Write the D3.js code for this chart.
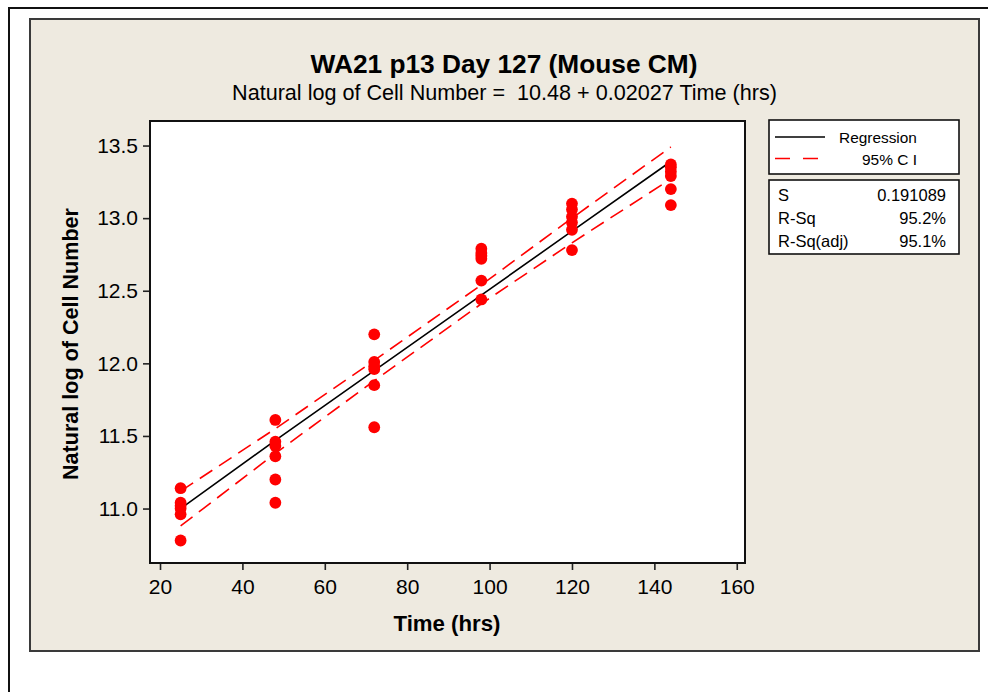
<!DOCTYPE html>
<html>
<head>
<meta charset="utf-8">
<script src="https://cdn.jsdelivr.net/npm/d3@7"></script>
<style>
  html, body { margin: 0; padding: 0; background: #ffffff; }
  svg { display: block; }
  text { font-family: "Liberation Sans", Arial, sans-serif; fill: #000; }
</style>
</head>
<body>
<svg id="chart" width="988" height="692"></svg>
<script>
// ---------------- data ----------------
const times = [25, 48, 72, 98, 120, 144];
const lnCells25  = [11.14, 11.04, 11.02, 11.00, 10.96, 10.78];
const lnCells48  = [11.61, 11.46, 11.43, 11.36, 11.20, 11.04];
const lnCells72  = [12.20, 12.01, 11.98, 11.96, 11.85, 11.56];
const lnCells98  = [12.79, 12.76, 12.74, 12.72, 12.57, 12.44];
const lnCells120 = [13.10, 13.06, 13.01, 12.97, 12.92, 12.78];
const lnCells144 = [13.37, 13.35, 13.32, 13.29, 13.20, 13.09];
const groups = [lnCells25, lnCells48, lnCells72, lnCells98, lnCells120, lnCells144];

const fitValues = [11.00, 11.47, 11.95, 12.47, 12.91, 13.39];
const ciUpper   = [11.12, 11.55, 12.02, 12.54, 13.00, 13.49];
const ciLower   = [10.88, 11.38, 11.88, 12.41, 12.83, 13.27];

const xTicks = [20, 40, 60, 80, 100, 120, 140, 160];
const yTicks = [11.0, 11.5, 12.0, 12.5, 13.0, 13.5];

const titleText = "WA21 p13 Day 127 (Mouse CM)";
const subtitleText = "Natural log of Cell Number =  10.48 + 0.02027 Time (hrs)";
const xTitle = "Time (hrs)";
const yTitle = "Natural log of Cell Number";
const legendLabels = ["Regression", "95% C I"];
const statNames = ["S", "R-Sq", "R-Sq(adj)"];
const statValues = ["0.191089", "95.2%", "95.1%"];

// ---------------- layout ----------------
const svg = d3.select("#chart");
const plot = { left: 150, top: 121, right: 745, bottom: 563 };
const red = "#ff0000";

function fitWidth(sel, w) {
  const cur = sel.node().getComputedTextLength();
  const fs = parseFloat(sel.attr("font-size"));
  if (cur > 0) sel.attr("font-size", (fs * w / cur).toFixed(2));
}

// outer frame lines
svg.append("line").attr("x1", 8).attr("x2", 988).attr("y1", 8).attr("y2", 8)
  .attr("stroke", "#111").attr("stroke-width", 2);
svg.append("line").attr("x1", 9).attr("x2", 9).attr("y1", 7).attr("y2", 692)
  .attr("stroke", "#111").attr("stroke-width", 2);

// beige panel
svg.append("rect").attr("x", 30).attr("y", 19).attr("width", 949).attr("height", 632)
  .attr("fill", "#eeeae0").attr("stroke", "#3a3a3a").attr("stroke-width", 2);

// plot area
svg.append("rect").attr("x", plot.left).attr("y", plot.top)
  .attr("width", plot.right - plot.left).attr("height", plot.bottom - plot.top)
  .attr("fill", "#ffffff");

const x = d3.scaleLinear().domain([17.57, 162.0]).range([plot.left, plot.right]);
const y = d3.scaleLinear().domain([10.625, 13.669]).range([plot.bottom, plot.top]);

// axes
const xAxis = svg.append("g").attr("transform", `translate(0,${plot.bottom})`)
  .call(d3.axisBottom(x).tickValues(xTicks).tickSize(7).tickSizeOuter(0).tickPadding(9).tickFormat(d3.format("d")));
const yAxis = svg.append("g").attr("transform", `translate(${plot.left},0)`)
  .call(d3.axisLeft(y).tickValues(yTicks).tickSize(7).tickSizeOuter(0).tickPadding(5).tickFormat(d3.format(".1f")));
[xAxis, yAxis].forEach(a => {
  a.select(".domain").remove();
  a.selectAll(".tick line").attr("stroke", "#222").attr("stroke-width", 1.6);
  a.selectAll(".tick text").attr("font-size", 21).attr("fill", "#000")
    .attr("font-family", "'Liberation Sans', Arial, sans-serif");
});

// plot border
svg.append("rect").attr("x", plot.left).attr("y", plot.top)
  .attr("width", plot.right - plot.left).attr("height", plot.bottom - plot.top)
  .attr("fill", "none").attr("stroke", "#111").attr("stroke-width", 2);

// CI lines
const line = d3.line().x((d) => x(d[0])).y((d) => y(d[1]));
[ciUpper, ciLower].forEach(arr => {
  svg.append("path").datum(times.map((t, i) => [t, arr[i]]))
    .attr("d", line).attr("fill", "none").attr("stroke", red)
    .attr("stroke-width", 1.6).attr("stroke-dasharray", "15,8");
});
// regression line
svg.append("path").datum(times.map((t, i) => [t, fitValues[i]]))
  .attr("d", line).attr("fill", "none").attr("stroke", "#000").attr("stroke-width", 1.6);

// points
const pts = [];
groups.forEach((g, i) => g.forEach(v => pts.push([times[i], v])));
svg.append("g").selectAll("circle").data(pts).join("circle")
  .attr("cx", d => x(d[0])).attr("cy", d => y(d[1])).attr("r", 5.9)
  .attr("fill", red);

// titles
const t1 = svg.append("text").attr("x", 504).attr("y", 73).attr("text-anchor", "middle")
  .attr("font-size", 24).attr("font-weight", "bold").text(titleText);
fitWidth(t1, 387);
const t2 = svg.append("text").attr("x", 504.5).attr("y", 100).attr("text-anchor", "middle")
  .attr("font-size", 20).attr("xml:space", "preserve").style("white-space", "pre").text(subtitleText);
fitWidth(t2, 545);
const xt = svg.append("text").attr("x", 447).attr("y", 631).attr("text-anchor", "middle")
  .attr("font-size", 21).attr("font-weight", "bold").text(xTitle);
fitWidth(xt, 107);
const yt = svg.append("text").attr("transform", "translate(78,344) rotate(-90)")
  .attr("text-anchor", "middle").attr("font-size", 21).attr("font-weight", "bold").text(yTitle);
fitWidth(yt, 272);

// legend box 1
svg.append("rect").attr("x", 769).attr("y", 120).attr("width", 190).attr("height", 54)
  .attr("fill", "#fff").attr("stroke", "#111").attr("stroke-width", 1.6);
svg.append("line").attr("x1", 775).attr("x2", 825).attr("y1", 137).attr("y2", 137)
  .attr("stroke", "#000").attr("stroke-width", 1.6);
svg.append("line").attr("x1", 775).attr("x2", 821).attr("y1", 158.5).attr("y2", 158.5)
  .attr("stroke", red).attr("stroke-width", 1.6).attr("stroke-dasharray", "15,13");
const lg1 = svg.append("text").attr("x", 839).attr("y", 142.5).attr("font-size", 15.5).text(legendLabels[0]);
fitWidth(lg1, 78);
const lg2 = svg.append("text").attr("x", 862).attr("y", 164.5).attr("font-size", 15.5).text(legendLabels[1]);
fitWidth(lg2, 55);

// legend box 2 (stats)
svg.append("rect").attr("x", 769).attr("y", 180).attr("width", 190).attr("height", 74)
  .attr("fill", "#fff").attr("stroke", "#111").attr("stroke-width", 1.6);
statNames.forEach((n, i) => {
  svg.append("text").attr("x", 778).attr("y", 201 + i * 23).attr("font-size", 16.5).text(n);
  svg.append("text").attr("x", 946).attr("y", 201 + i * 23).attr("font-size", 16.5)
    .attr("text-anchor", "end").text(statValues[i]);
});
</script>
</body>
</html>
